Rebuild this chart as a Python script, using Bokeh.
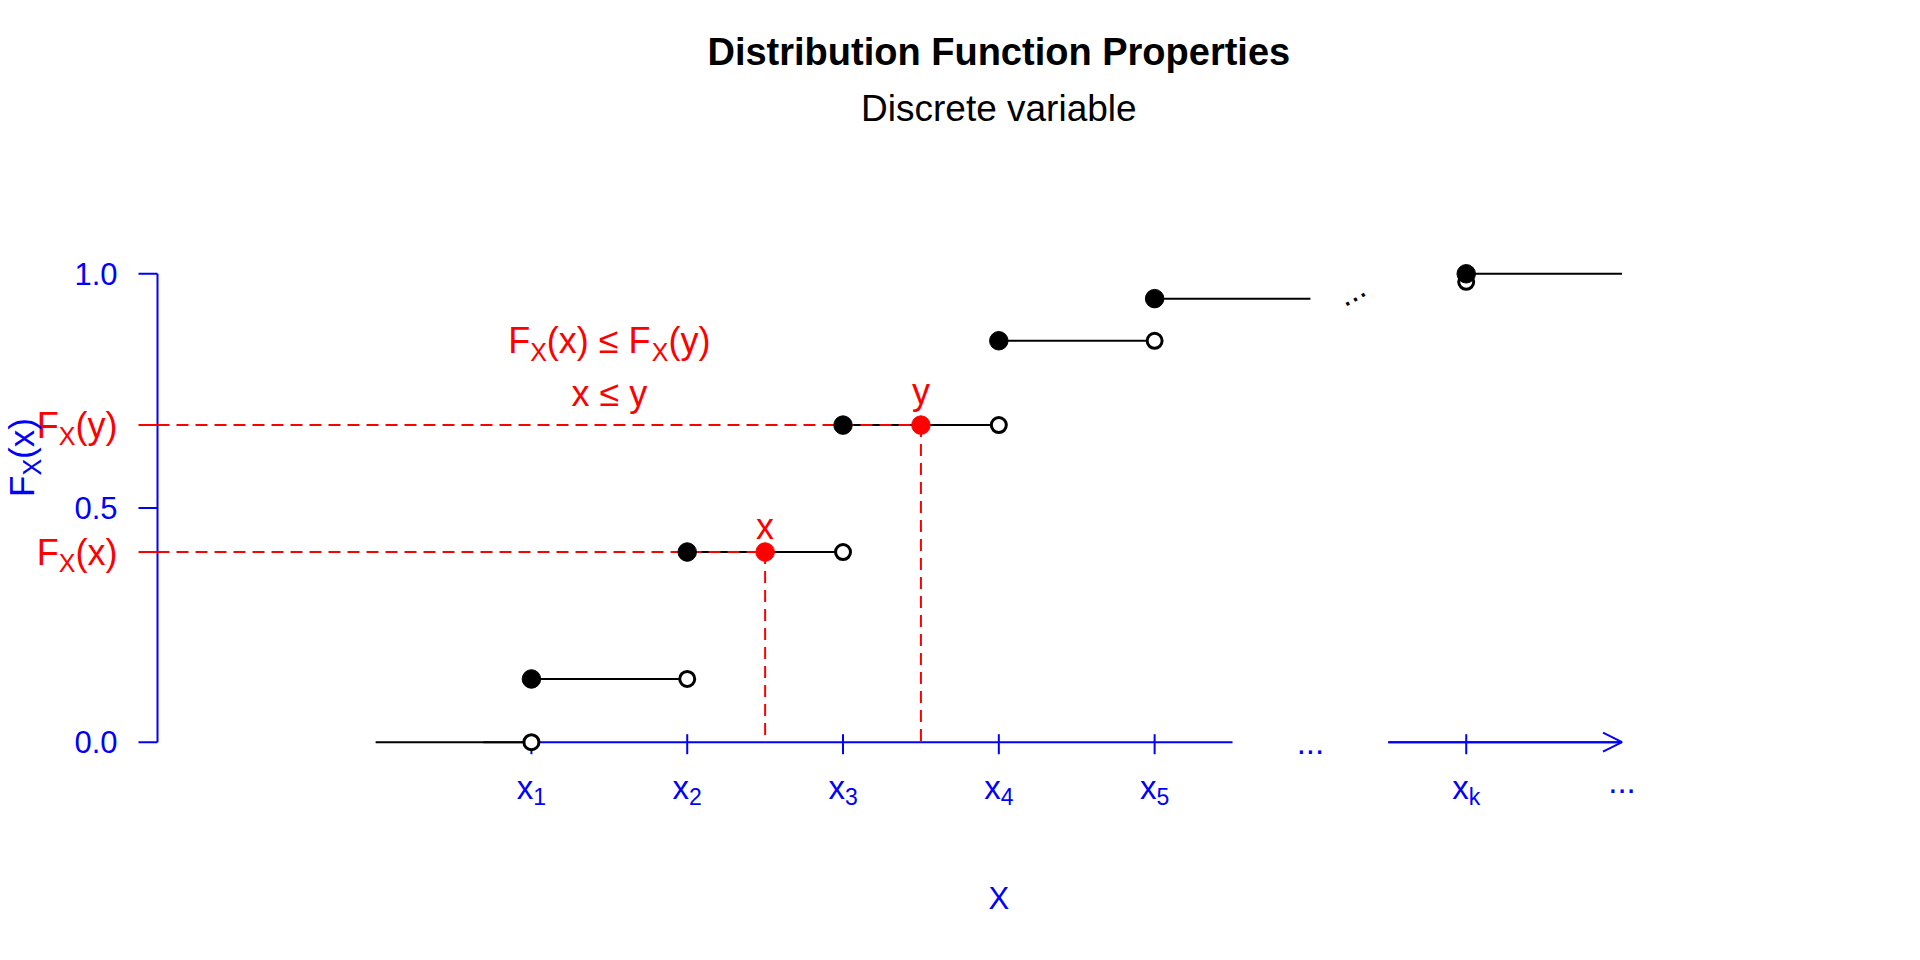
import math
from bokeh.plotting import figure
from bokeh.models import Range1d, Arrow, OpenHead
from bokeh.core.properties import value
from bokeh.embed import file_html
from bokeh.resources import INLINE

# ---------------- data ----------------
xlim = [-1, 9]
step_start = [0, 1, 2, 3, 4, 5, 7]
step_end = [1, 2, 3, 4, 5, 6, 8]
step_level = [0.0, 0.135, 0.406, 0.677, 0.857, 0.947, 1.0]
closed_x = [1, 2, 3, 4, 5, 7]
closed_y = [0.135, 0.406, 0.677, 0.857, 0.947, 1.0]
open_x = [1, 2, 3, 4, 5, 7]
open_y = [0.0, 0.135, 0.406, 0.677, 0.857, 0.983]
x_ticks = [1, 2, 3, 4, 5, 7]
x_tick_subs = ["1", "2", "3", "4", "5", "k"]
y_ticks = [0.0, 0.5, 1.0]
y_tick_labels = ["0.0", "0.5", "1.0"]
x_axis_from = [0.69, 6.5]
x_axis_to = [5.5, 8.0]
axis_gap_x = 6
axis_tail_x = 8
pt_names = ["x", "y"]
pt_x = [2.5, 3.5]
pt_F = [0.406, 0.677]
ann_x = 1.5
dots_x = 6.295
title_text = "Distribution Function Properties"
subtitle_text = "Discrete variable"
xlab_text = "X"

# ---------------- geometry ----------------
W, H = 1904, 944
KX, KY = 155.8, 468.4          # pixels per data unit
AX_SX, Y0_SY = 157.0, 741.7     # screen position of y-axis / y = 0
usr_left = xlim[0] - 0.04 * (xlim[1] - xlim[0])
x_center = (xlim[0] + xlim[1]) / 2
xs = usr_left - AX_SX / KX
xe = xs + W / KX
ye = Y0_SY / KY
ys = ye - H / KY


def dx(px):
    return px / KX


def dy(px):  # positive px = downwards on screen
    return -px / KY


def sy2d(s):
    return (Y0_SY - s) / KY


FONT = "Liberation Sans"
MID = 0.3465   # em distance from alphabetic baseline to the "middle" baseline
BLUE, RED, BLACK = "#0000FF", "#FF0000", "#000000"
WID = {'F': 611, 'X': 667, '(': 333, ')': 333, 'x': 500, 'y': 500, ' ': 278,
       '≤': 584, '0': 556, '1': 556, '2': 556, '3': 556, '4': 556, '5': 556,
       'k': 500, '.': 278}


def tw(s, size):
    return sum(WID[c] for c in s) / 1000.0 * size


p = figure(width=W, height=H, x_range=Range1d(xs, xe), y_range=Range1d(ys, ye),
           x_axis_location=None, y_axis_location=None, toolbar_location=None,
           output_backend="svg", min_border=0, outline_line_color=None,
           title_location=None)
p.background_fill_color = "white"
p.border_fill_color = "white"
for g in p.grid:
    g.visible = False
p.center = [c for c in p.center if c.__class__.__name__ != "Grid"]


def txt(x, y, s, size, color, align="left", baseline="alphabetic", angle=0.0, style="normal"):
    # "alphabetic": (x, y) is a point on the text baseline; drawn with a middle anchor
    if baseline == "alphabetic":
        m = MID * size
        x = x + dx(-math.sin(angle) * m)
        y = y + dy(-math.cos(angle) * m)
    p.text(x=[x], y=[y], text=[s], text_font=value(FONT), text_font_size=value(f"{size}px"),
           text_color=color, text_align=align, text_baseline="middle", angle=angle,
           text_font_style=style)


def math_label(x, y, pieces, color, align="left"):
    total = sum(tw(t, s) for t, s, _ in pieces)
    cur = {"left": 0.0, "center": -total / 2, "right": -total}[align]
    for t, s, drop in pieces:
        txt(x + dx(cur), y + dy(drop), t, s, color)
        cur += tw(t, s)


def math_label_up(x, y, pieces, color):
    total = sum(tw(t, s) for t, s, _ in pieces)
    cur = -total / 2
    for t, s, drop in pieces:
        txt(x + dx(drop), y + dy(-cur), t, s, color, angle=math.pi / 2)
        cur += tw(t, s)


RS, SUB = 36, 25      # red expression sizes
SUBDROP = 7

# ---------------- x axis (broken, with arrow) ----------------
p.segment(x0=x_axis_from, y0=[0, 0], x1=x_axis_to, y1=[0, 0], line_color=BLUE, line_width=2)
p.add_layout(Arrow(end=OpenHead(size=19, line_color=BLUE, line_width=2),
                   x_start=x_axis_from[1], y_start=0, x_end=x_axis_to[1], y_end=0,
                   line_color=BLUE, line_width=2))
p.segment(x0=x_ticks, y0=[dy(-8)] * len(x_ticks), x1=x_ticks, y1=[dy(12)] * len(x_ticks),
          line_color=BLUE, line_width=2)

# ---------------- y axis ----------------
p.segment(x0=[usr_left], y0=[y_ticks[0]], x1=[usr_left], y1=[y_ticks[-1]], line_color=BLUE, line_width=2)
p.segment(x0=[usr_left] * 3, y0=y_ticks, x1=[usr_left + dx(-19)] * 3, y1=y_ticks,
          line_color=BLUE, line_width=2)
p.segment(x0=[usr_left] * 2, y0=pt_F, x1=[usr_left + dx(-19)] * 2, y1=pt_F,
          line_color=RED, line_width=2)

# ---------------- step function ----------------
p.segment(x0=step_start, y0=step_level, x1=step_end, y1=step_level, line_color=BLACK, line_width=2)

# red guide lines
p.segment(x0=[usr_left] * 2, y0=pt_F, x1=pt_x, y1=pt_F, line_color=RED, line_width=2, line_dash="12 7")
p.segment(x0=pt_x, y0=pt_F, x1=pt_x, y1=[0, 0], line_color=RED, line_width=2, line_dash="12 7")

# points
p.scatter(open_x, open_y, size=15, fill_color="white", line_color=BLACK, line_width=3)
p.scatter(closed_x, closed_y, size=18.5, fill_color=BLACK, line_color=BLACK)
p.scatter(pt_x, pt_F, size=18.5, fill_color=RED, line_color=RED)

# ---------------- texts ----------------
# titles
txt(x_center, sy2d(51), title_text, 38, BLACK, align="center", baseline="middle", style="bold")
txt(x_center, sy2d(108), subtitle_text, 37, BLACK, align="center", baseline="middle")

# y tick labels
for v, lab in zip(y_ticks, y_tick_labels):
    txt(usr_left + dx(-40), v, lab, 31, BLUE, align="right", baseline="middle")

# red labels at y axis: F_X(x), F_X(y)
for nm, F in zip(pt_names, pt_F):
    math_label(usr_left + dx(-40), F + dy(13),
               [("F", RS, 0), ("X", SUB, SUBDROP), ("(" + nm + ")", RS, 0)], RED, align="right")

# rotated y-axis title
math_label_up(usr_left + dx(33.5 - AX_SX), sy2d(457),
              [("F", 35, 0), ("X", 25, 7), ("(x)", 35, 0)], BLUE)

# x tick labels
for xv, sub in zip(x_ticks, x_tick_subs):
    math_label(xv, dy(56.3), [("x", 33, 0), (sub, 23, 6)], BLUE, align="center")
txt(axis_gap_x, 0, "...", 33, BLUE, align="center", baseline="middle")
txt(axis_tail_x, dy(51), "...", 33, BLUE, align="center")

# x axis title
txt(x_center, sy2d(898), xlab_text, 31, BLUE, align="center", baseline="middle")

# point labels (gap above the point, in pixels)
for nm, xv, F, gap in zip(pt_names, pt_x, pt_F, [13.5, 21.5]):
    txt(xv, F + dy(-gap), nm, RS, RED, align="center")

# annotation
math_label(ann_x, sy2d(352.7),
           [("F", RS, 0), ("X", SUB, SUBDROP), ("(x) ≤ F", RS, 0), ("X", SUB, SUBDROP), ("(y)", RS, 0)],
           RED, align="center")
txt(ann_x, sy2d(405), "x ≤ y", RS, RED, align="center")

# dots between x5 and xk
txt(dots_x, sy2d(300.5), "...", 32, BLACK, align="center", angle=math.radians(30))

open("out.html", "w").write(file_html(p, INLINE, title="Distribution Function Properties"))
